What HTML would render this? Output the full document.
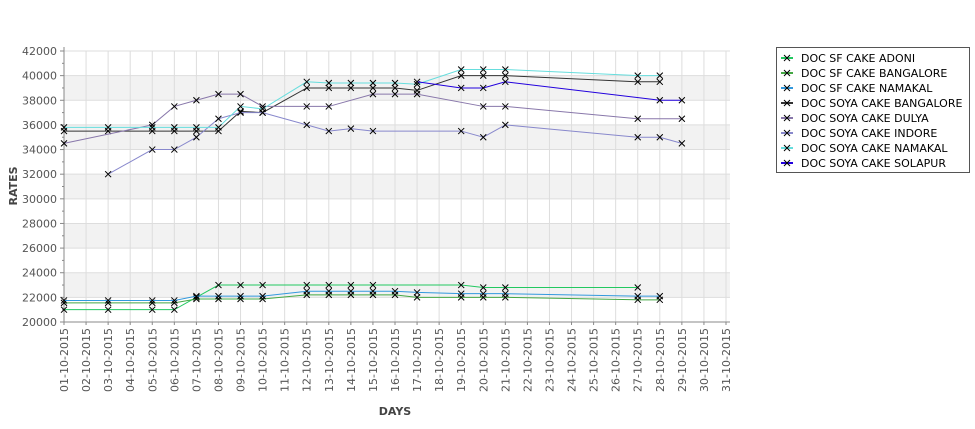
<!DOCTYPE html>
<html><head><meta charset="utf-8"><style>
body{margin:0;background:#fff;}
svg{display:block;font-family:"DejaVu Sans","Liberation Sans",sans-serif;}
</style></head><body>
<svg id="chart" width="975" height="429" viewBox="0 0 975 429">
<g id="bands"></g><g id="grid"></g><g id="axes"></g><g id="series"></g>
<text x="395" y="415" font-size="11" font-weight="bold" fill="#444" text-anchor="middle">DAYS</text>
<text transform="translate(17,186) rotate(-90)" font-size="11" font-weight="bold" fill="#444" text-anchor="middle">RATES</text>
<g id="legend"></g>
</svg>
<script>
const dayLabels = Array.from({length:31},(_,i)=>String(i+1).padStart(2,'0')+'-10-2015');
const yTicks = [20000,22000,24000,26000,28000,30000,32000,34000,36000,38000,40000,42000];
const seriesNames = ["DOC SF CAKE ADONI","DOC SF CAKE BANGALORE","DOC SF CAKE NAMAKAL","DOC SOYA CAKE BANGALORE","DOC SOYA CAKE DULYA","DOC SOYA CAKE INDORE","DOC SOYA CAKE NAMAKAL","DOC SOYA CAKE SOLAPUR"];
const seriesColors = ["#22c860","#44a844","#3399dd","#333333","#8877aa","#8888cc","#66dddd","#2200dd"];
const adoniDays = [1,3,5,6,7,8,9,10,12,13,14,15,19,20,21,27];
const adoniVals = [21000,21000,21000,21000,22000,23000,23000,23000,23000,23000,23000,23000,23000,22800,22800,22800];
const sfBlrDays = [1,3,5,6,7,8,9,10,12,13,14,15,16,17,19,20,21,27,28];
const sfBlrVals = [21550,21550,21550,21550,21870,21870,21870,21870,22200,22200,22200,22200,22200,22000,22000,22000,22000,21800,21800];
const sfNmkDays = [1,3,5,6,7,8,9,10,12,13,14,15,16,17,19,20,21,27,28];
const sfNmkVals = [21750,21750,21750,21750,22100,22100,22100,22100,22500,22500,22500,22500,22500,22400,22300,22300,22300,22100,22100];
const soyaBlrDays = [1,3,5,6,7,8,9,10,12,13,14,15,16,17,19,20,21,27,28];
const soyaBlrVals = [35500,35500,35500,35500,35500,35500,37100,37000,39000,39000,39000,39000,39000,38800,40000,40000,40000,39500,39500];
const dulyaDays = [1,5,6,7,8,9,10,12,13,15,16,17,20,21,27,29];
const dulyaVals = [34500,36000,37500,38000,38500,38500,37500,37500,37500,38500,38500,38500,37500,37500,36500,36500];
const indoreDays = [3,5,6,7,8,9,10,12,13,14,15,19,20,21,27,28,29];
const indoreVals = [32000,34000,34000,35000,36500,37000,37000,36000,35500,35700,35500,35500,35000,36000,35000,35000,34500];
const soyaNmkDays = [1,3,5,6,7,8,9,10,12,13,14,15,16,17,19,20,21,27,28];
const soyaNmkVals = [35800,35800,35800,35800,35800,35800,37500,37300,39500,39400,39400,39400,39400,39300,40500,40500,40500,40000,40000];
const solapurDays = [17,19,20,21,28,29];
const solapurVals = [39500,39000,39000,39500,38000,38000];
const allDays=[adoniDays,sfBlrDays,sfNmkDays,soyaBlrDays,dulyaDays,indoreDays,soyaNmkDays,solapurDays];
const allVals=[adoniVals,sfBlrVals,sfNmkVals,soyaBlrVals,dulyaVals,indoreVals,soyaNmkVals,solapurVals];

const X0=64,X1=726,Y0=322,Y1=51,VMIN=20000,VMAX=42000;
const xS=d=>X0+(d-1)*(X1-X0)/30;
const yS=v=>Y0-(v-VMIN)*(Y0-Y1)/(VMAX-VMIN);
const NS="http://www.w3.org/2000/svg";
function mk(tag,attrs,parent){const e=document.createElementNS(NS,tag);for(const k in attrs)e.setAttribute(k,attrs[k]);parent.appendChild(e);return e;}
const bands=document.getElementById('bands'),grid=document.getElementById('grid'),axes=document.getElementById('axes'),ser=document.getElementById('series'),leg=document.getElementById('legend');
for(let i=0;i<yTicks.length-1;i++){
  if(i%2===1){const r=mk('rect',{x:X0,y:yS(yTicks[i+1]),width:X1-X0+4,height:yS(yTicks[i])-yS(yTicks[i+1]),fill:'#f2f2f2'},bands);
  
  }
}
yTicks.forEach(v=>{
  const l=mk('line',{x1:X0,x2:X1+4,y1:yS(v),y2:yS(v),stroke:'#dddddd','stroke-width':1},grid);
  
  
  mk('line',{x1:X0-4,x2:X0,y1:yS(v),y2:yS(v),stroke:'#888'},axes);
  if(v<VMAX) mk('line',{x1:X0-2,x2:X0,y1:yS(v+1000),y2:yS(v+1000),stroke:'#888'},axes);
  const t=mk('text',{x:X0-7,y:yS(v)+4,'font-size':11,fill:'#555','text-anchor':'end'},axes);
  
  
  t.textContent=v;
});
dayLabels.forEach((lab,i)=>{
  const x=xS(i+1);
  const l=mk('line',{x1:x,x2:x,y1:Y1,y2:Y0,stroke:'#dddddd','stroke-width':1},grid);
  
  
  mk('line',{x1:x,x2:x,y1:Y0,y2:Y0+3,stroke:'#888'},axes);
  const t=mk('text',{transform:`translate(${x+4},${Y0+6}) rotate(-90)`,'font-size':11,fill:'#555','text-anchor':'end'},axes);
  
  
  t.textContent=lab;
});
mk('line',{x1:X0,x2:X0,y1:Y1-4,y2:Y0,stroke:'#888'},axes);
mk('line',{x1:X0,x2:X1+4,y1:Y0,y2:Y0,stroke:'#888'},axes);
function cross(x,y,p){mk('path',{d:`M${x-3} ${y-3}L${x+3} ${y+3}M${x-3} ${y+3}L${x+3} ${y-3}`,stroke:'#000','stroke-width':1},p);}
allDays.forEach((days,s)=>{
  const g=mk('g',{},ser);
  
  
  const pts=days.map((d,i)=>xS(d)+','+yS(allVals[s][i])).join(' ');
  mk('polyline',{points:pts,fill:'none',stroke:seriesColors[s],'stroke-width':1},g);
  days.forEach((d,i)=>cross(xS(d),yS(allVals[s][i]),g));
});
mk('rect',{x:776.5,y:47.5,width:193,height:125,fill:'#fff',stroke:'#555'},leg);
seriesNames.forEach((n,i)=>{
  const y=58+i*15;
  const g=mk('g',{},leg);
  
  
  mk('line',{x1:781,x2:793,y1:y,y2:y,stroke:seriesColors[i],'stroke-width':2},g);
  cross(787,y,g);
  const t=mk('text',{x:801,y:y+4,'font-size':11,fill:'#000'},g);
  t.textContent=n;
});
</script>
</body></html>
